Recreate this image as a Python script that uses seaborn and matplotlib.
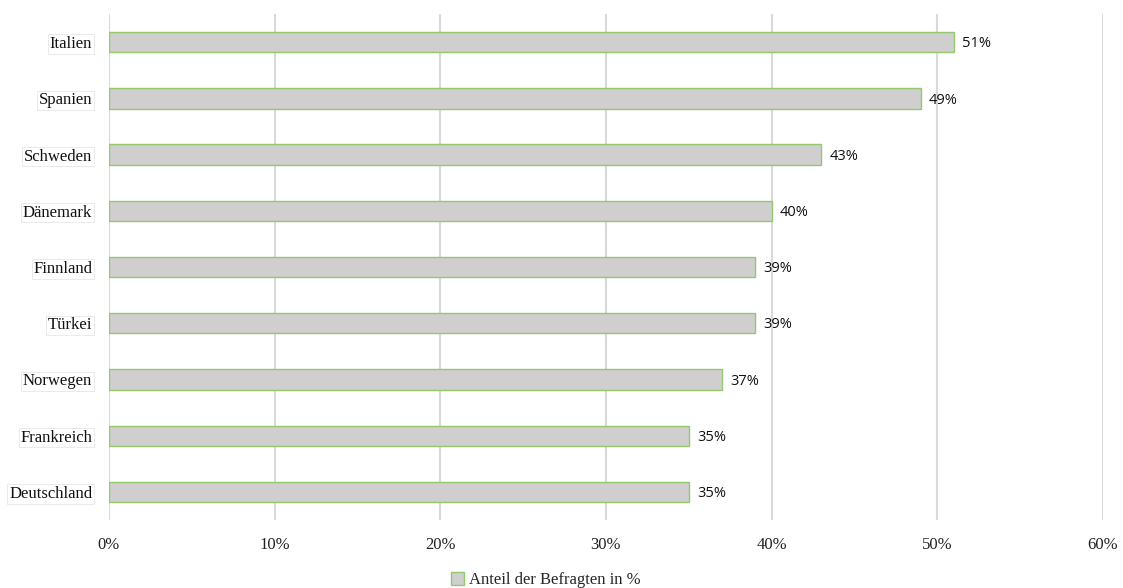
import matplotlib
matplotlib.use("Agg")
import matplotlib.pyplot as plt
import seaborn as sns
import pandas as pd
from matplotlib.patches import Patch

countries = ["Italien", "Spanien", "Schweden", "Dänemark", "Finnland", "Türkei", "Norwegen", "Frankreich", "Deutschland"]
values = [51, 49, 43, 40, 39, 39, 37, 35, 35]
xticks = [0, 10, 20, 30, 40, 50, 60]
series_name = "Anteil der Befragten in %"

sns.set_style("white")
plt.rcParams["font.family"] = ["Liberation Serif", "DejaVu Serif"]

df = pd.DataFrame({"Land": countries, "Wert": values})

fig = plt.figure(figsize=(11.23, 5.88), dpi=100)
ax = fig.add_axes([0.097, 0.1156, 0.885, 0.8605])

sns.barplot(data=df, y="Land", x="Wert", orient="h", ax=ax, width=0.36,
            color="#d0cece", edgecolor="#92c96f", linewidth=1.0, saturation=1)

ax.set_xlim(0, 60)
ax.set_ylim(len(countries) - 0.5, -0.5)
ax.set_xticks(xticks)
ax.set_xticklabels([f"{t}%" for t in xticks], fontsize=12, color="#222222")
ax.tick_params(axis="x", length=0, pad=12)
ax.tick_params(axis="y", length=0, pad=12)
for lab in ax.get_yticklabels():
    lab.set_fontsize(12)
    lab.set_color("#111111")
    lab.set_bbox(dict(facecolor="white", edgecolor="#e6e6e6", linewidth=0.6, pad=1.2))
ax.set_xlabel("")
ax.set_ylabel("")
ax.grid(axis="x", color="#d9d9d9", linewidth=1.5)
ax.set_axisbelow(True)
for s in ax.spines.values():
    s.set_visible(False)

for i, v in enumerate(values):
    ax.text(v + 0.5, i + 0.03, f"{v}%", va="center", ha="left", fontsize=10.5,
            family=["Open Sans", "DejaVu Sans"], color="#111111")

handles = [Patch(facecolor="#d0cece", edgecolor="#92c96f", linewidth=1.0)]
fig.legend(handles, [series_name], loc="lower center", bbox_to_anchor=(0.486, -0.026),
           frameon=False, fontsize=12, handlelength=0.75, handleheight=0.75, handletextpad=0.3)

fig.savefig("out.png", dpi=100)
